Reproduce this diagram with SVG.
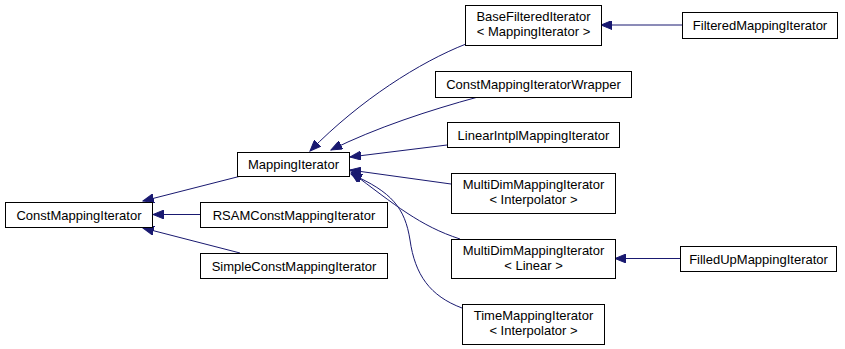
<svg xmlns="http://www.w3.org/2000/svg" width="845" height="349" viewBox="0 0 845 349">
  <style>
    .node rect { fill: #ffffff; stroke: #000000; stroke-width: 1; }
    .node text { font-family: "Liberation Sans", Arial, Helvetica, sans-serif; font-size: 13px; fill: #000000; text-anchor: middle; }
    .edge { fill: none; stroke: #191970; stroke-width: 1; marker-end: url(#arrow); }
  </style>
  <defs>
    <marker id="arrow" markerUnits="userSpaceOnUse" markerWidth="12" markerHeight="9" refX="11" refY="4.5" orient="auto">
      <path d="M0,0 L11,4.5 L0,9 Z" fill="#191970" stroke="#191970" stroke-width="1"/>
    </marker>
  </defs>
  <rect width="845" height="349" fill="#ffffff"/>

  <!-- inheritance edges: derived class to base class -->
  <g id="edges">
    <path class="edge" d="M241,176 L143,201"/>
    <path class="edge" d="M200,214.5 L153,214.5"/>
    <path class="edge" d="M240,253 L143,228"/>
    <path class="edge" d="M466,44 C420,62 360,100 310,151"/>
    <path class="edge" d="M478,97 C430,110 375,128 331,150"/>
    <path class="edge" d="M447,145 L350,157"/>
    <path class="edge" d="M451,184 L350,170"/>
    <path class="edge" d="M460,239 C420,226 395,205 351,172"/>
    <path class="edge" d="M462,308 C430,296 415,275 410,240 C405,208 392,192 351,174"/>
    <path class="edge" d="M682,25 L601,25"/>
    <path class="edge" d="M680,258.5 L615,258.5"/>
  </g>

  <g id="ConstMappingIterator" class="node">
    <rect x="5.5" y="202.5" width="147" height="25"/>
    <text x="79" y="219.5">ConstMappingIterator</text>
  </g>
  <g id="MappingIterator" class="node">
    <rect x="237.5" y="152.5" width="112" height="24"/>
    <text x="293.5" y="169">MappingIterator</text>
  </g>
  <g id="RSAMConstMappingIterator" class="node">
    <rect x="200.5" y="202.5" width="187" height="25"/>
    <text x="294" y="219.5">RSAMConstMappingIterator</text>
  </g>
  <g id="SimpleConstMappingIterator" class="node">
    <rect x="200.5" y="253.5" width="187" height="25"/>
    <text x="294" y="270.5">SimpleConstMappingIterator</text>
  </g>
  <g id="BaseFilteredIterator" class="node">
    <rect x="465.5" y="5.5" width="136" height="40"/>
    <text x="533.5" y="21">BaseFilteredIterator</text>
    <text x="533.5" y="36">&lt; MappingIterator &gt;</text>
  </g>
  <g id="ConstMappingIteratorWrapper" class="node">
    <rect x="435.5" y="71.5" width="196" height="26"/>
    <text x="533.5" y="89">ConstMappingIteratorWrapper</text>
  </g>
  <g id="LinearIntplMappingIterator" class="node">
    <rect x="447.5" y="122.5" width="172" height="25"/>
    <text x="533.5" y="139.5">LinearIntplMappingIterator</text>
  </g>
  <g id="MultiDimMappingIterator_Interpolator" class="node">
    <rect x="451.5" y="173.5" width="164" height="40"/>
    <text x="533.5" y="189">MultiDimMappingIterator</text>
    <text x="533.5" y="204">&lt; Interpolator &gt;</text>
  </g>
  <g id="MultiDimMappingIterator_Linear" class="node">
    <rect x="451.5" y="239.5" width="164" height="39"/>
    <text x="533.5" y="255">MultiDimMappingIterator</text>
    <text x="533.5" y="270">&lt; Linear &gt;</text>
  </g>
  <g id="TimeMappingIterator" class="node">
    <rect x="462.5" y="304.5" width="142" height="40"/>
    <text x="533.5" y="320">TimeMappingIterator</text>
    <text x="533.5" y="335">&lt; Interpolator &gt;</text>
  </g>
  <g id="FilteredMappingIterator" class="node">
    <rect x="682.5" y="12.5" width="155" height="26"/>
    <text x="760" y="30">FilteredMappingIterator</text>
  </g>
  <g id="FilledUpMappingIterator" class="node">
    <rect x="680.5" y="246.5" width="156" height="25"/>
    <text x="758.5" y="263.5">FilledUpMappingIterator</text>
  </g>
</svg>
